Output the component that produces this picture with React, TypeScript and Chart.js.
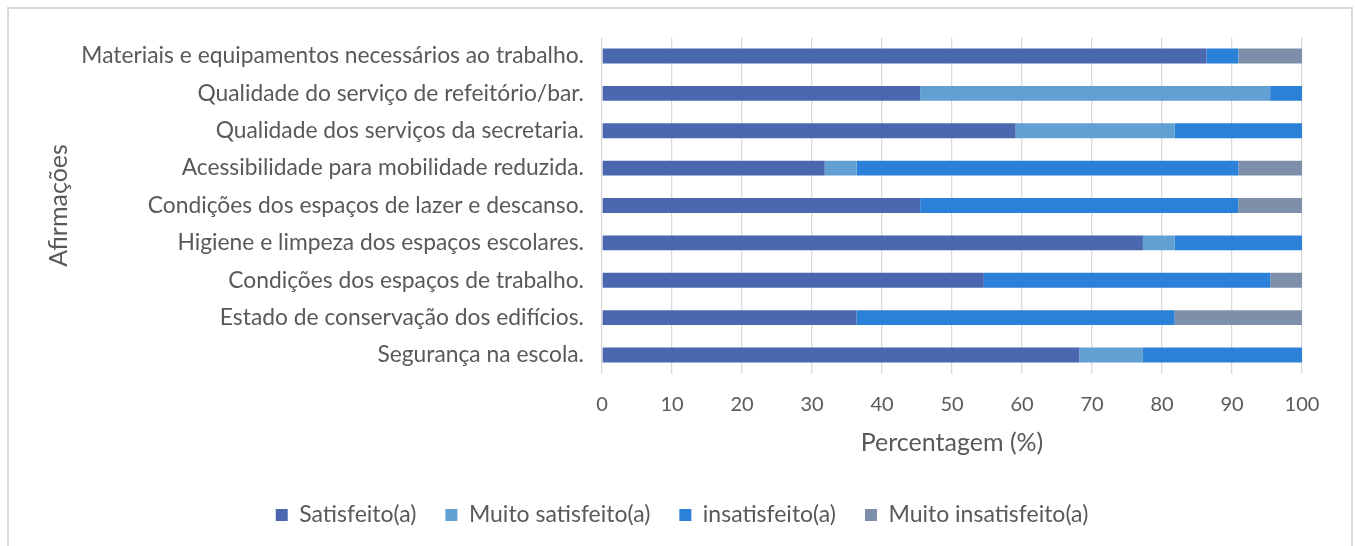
import React, { useEffect, useRef } from "react";
import { Chart, registerables } from "chart.js";

Chart.register(...registerables);

const categories = [
  "Materiais e equipamentos necessários ao trabalho.",
  "Qualidade do serviço de refeitório/bar.",
  "Qualidade dos serviços da secretaria.",
  "Acessibilidade para mobilidade reduzida.",
  "Condições dos espaços de lazer e descanso.",
  "Higiene e limpeza dos espaços escolares.",
  "Condições dos espaços de trabalho.",
  "Estado de conservação dos edifícios.",
  "Segurança na escola.",
];

const satisfeito = [86.36, 45.45, 59.09, 31.82, 45.45, 77.27, 54.55, 36.36, 68.18];
const muitoSatisfeito = [0, 50.0, 22.73, 4.55, 0, 4.55, 0, 0, 9.09];
const insatisfeito = [4.55, 4.55, 18.18, 54.55, 45.45, 18.18, 40.91, 45.45, 22.73];
const muitoInsatisfeito = [9.09, 0, 0, 9.09, 9.09, 0, 4.55, 18.18, 0];

const seriesNames = ["Satisfeito(a)", "Muito satisfeito(a)", "insatisfeito(a)", "Muito insatisfeito(a)"];
const seriesColors = ["#4A67AF", "#629FD3", "#2B80D8", "#7F8FA9"];

const xTicksMin = 0;
const xTicksMax = 100;
const xTicksStep = 10;

const FONT = "Lato";
const TEXT = "#595959";

export default function App() {
  const ref = useRef<HTMLCanvasElement | null>(null);

  useEffect(() => {
    if (!ref.current) return;
    const values = [satisfeito, muitoSatisfeito, insatisfeito, muitoInsatisfeito];
    const chart = new Chart(ref.current, {
      type: "bar",
      data: {
        labels: categories,
        datasets: values.map((v, i) => ({
          label: seriesNames[i],
          data: v,
          backgroundColor: seriesColors[i],
          borderWidth: 0,
          categoryPercentage: 0.8,
          barPercentage: 0.5,
        })),
      },
      options: {
        indexAxis: "y",
        animation: false,
        responsive: false,
        maintainAspectRatio: false,
        layout: { padding: { top: 37.3, left: 62, right: 53, bottom: 9.5 } },
        plugins: {
          tooltip: { enabled: false },
          legend: {
            position: "bottom",
            labels: {
              boxWidth: 12,
              boxHeight: 12,
              padding: 29,
              color: TEXT,
              font: { family: FONT, size: 23 },
            },
          },
        },
        scales: {
          x: {
            stacked: true,
            min: xTicksMin,
            max: xTicksMax,
            ticks: {
              stepSize: xTicksStep,
              color: TEXT,
              padding: 19,
              font: { family: FONT, size: 20 },
            },
            grid: { color: "#D9D9D9", lineWidth: 1.3, drawTicks: false },
            border: { display: false },
            title: {
              display: true,
              text: "Percentagem (%)",
              color: TEXT,
              font: { family: FONT, size: 25 },
              padding: { top: 0, bottom: 16.5 },
            },
            afterFit: (s: any) => {
              s.height = 100.8;
            },
          },
          y: {
            stacked: true,
            ticks: {
              color: TEXT,
              padding: 18,
              font: { family: FONT, size: 22.8 },
            },
            grid: { display: false, drawTicks: false },
            border: { display: false },
            title: {
              display: true,
              text: "Afirmações",
              color: TEXT,
              font: { family: FONT, size: 25 },
              padding: { top: -18.5, bottom: 0 },
            },
            afterFit: (s: any) => {
              s.width = 540;
            },
          },
        },
      },
    });
    return () => chart.destroy();
  }, []);

  return (
    <div style={{ position: "absolute", left: 0, top: 0, width: 1355, height: 546, overflow: "hidden", background: "#fff" }}>
      <div
        style={{
          position: "absolute",
          left: 7,
          top: 7,
          width: 1346,
          height: 560,
          border: "2px solid #D9D9D9",
          boxSizing: "border-box",
        }}
      />
      <canvas ref={ref} width={1355} height={546} style={{ position: "absolute", left: 0, top: 0, width: 1355, height: 546 }} />
    </div>
  );
}
